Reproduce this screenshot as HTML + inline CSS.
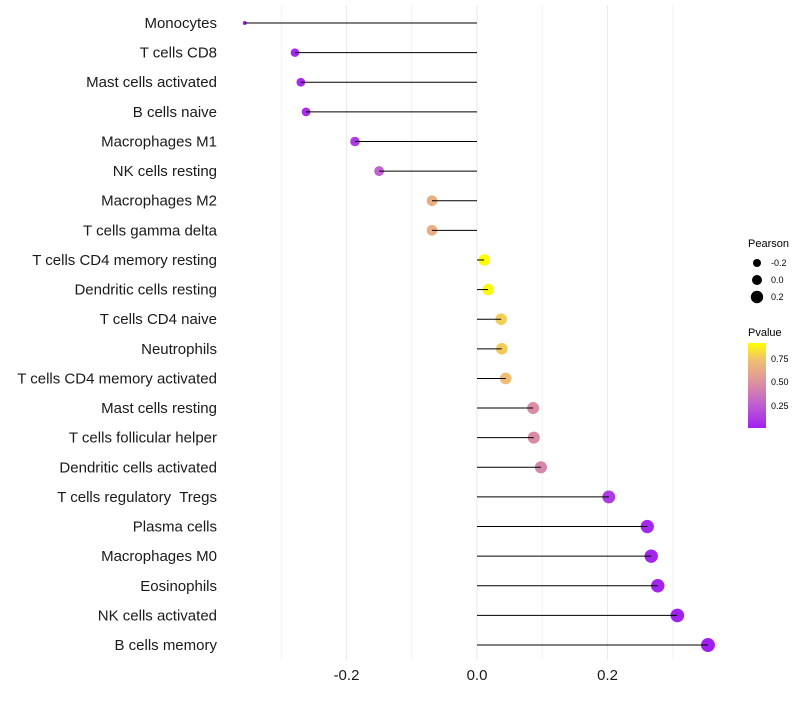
<!DOCTYPE html>
<html><head><meta charset="utf-8"><style>
body{margin:0;background:#fff;font-family:"Liberation Sans",sans-serif}
text{white-space:pre}
</style></head><body>
<svg id="chart" width="800" height="700" xmlns="http://www.w3.org/2000/svg" font-family="Liberation Sans, sans-serif">
<g id="grid"></g>
<g id="ylab"></g>
<g id="xlab"></g>
<g id="pts"></g>
<g id="segs"></g>
<g>
<text x="748" y="247" font-size="11">Pearson</text>
<circle cx="757" cy="263" r="4" fill="#000"/>
<text x="771" y="266" font-size="9">-0.2</text>
<circle cx="757" cy="280" r="5" fill="#000"/>
<text x="771" y="283" font-size="9">0.0</text>
<circle cx="757" cy="297" r="6.2" fill="#000"/>
<text x="771" y="300" font-size="9">0.2</text>
</g>
<g>
<defs><linearGradient id="pg" x1="0" y1="1" x2="0" y2="0">
<stop offset="0" stop-color="#a020f0"/><stop offset="0.28" stop-color="#c060d0"/><stop offset="0.53" stop-color="#dc90a0"/><stop offset="0.8" stop-color="#f0c070"/><stop offset="1" stop-color="#ffff00"/></linearGradient></defs>
<text x="748" y="336" font-size="11">Pvalue</text>
<rect x="748" y="343" width="18" height="85" fill="url(#pg)"/>
<text x="771" y="362" font-size="9">0.75</text>
<text x="771" y="385" font-size="9">0.50</text>
<text x="771" y="409" font-size="9">0.25</text>
</g>
</svg>
<script>
const categories=["Monocytes","T cells CD8","Mast cells activated","B cells naive","Macrophages M1","NK cells resting","Macrophages M2","T cells gamma delta","T cells CD4 memory resting","Dendritic cells resting","T cells CD4 naive","Neutrophils","T cells CD4 memory activated","Mast cells resting","T cells follicular helper","Dendritic cells activated","T cells regulatory  Tregs","Plasma cells","Macrophages M0","Eosinophils","NK cells activated","B cells memory"];
const pearson=[-0.356,-0.279,-0.270,-0.262,-0.187,-0.150,-0.069,-0.069,0.011,0.017,0.037,0.038,0.044,0.086,0.087,0.098,0.202,0.261,0.267,0.277,0.307,0.354];
const pvalue=[0.03,0.05,0.06,0.07,0.12,0.28,0.65,0.65,0.92,0.9,0.78,0.77,0.72,0.48,0.47,0.45,0.12,0.05,0.04,0.03,0.02,0.016];
const xTicks=[-0.2,0.0,0.2];
const xTickLabels=["-0.2","0.0","0.2"];
const NS="http://www.w3.org/2000/svg";
const x=v=>477+v*652.5;
const y=i=>23+i*29.62;
const stops=[[0,[160,32,240]],[0.28,[192,96,208]],[0.53,[220,144,160]],[0.8,[240,192,112]],[1,[255,255,0]]];
function col(p){let t=(p-0.016)/(0.92-0.016);t=Math.max(0,Math.min(1,t));
for(let k=1;k<stops.length;k++){if(t<=stops[k][0]){const a=stops[k-1],b=stops[k];const f=(t-a[0])/(b[0]-a[0]);
return "rgb("+a[1].map((c,j)=>Math.round(c+(b[1][j]-c)*f)).join(",")+")";}}return "rgb(255,255,0)";}
function rad(v){if(v<-0.279)return Math.max(1.5,4.3-(-0.279-v)*30);return Math.sqrt(18.5+48*(v+0.279));}
function mk(tag,attrs,parent){const e=document.createElementNS(NS,tag);for(const k in attrs)e.setAttribute(k,attrs[k]);document.getElementById(parent).appendChild(e);return e;}
[-0.3,-0.1,0.1,0.3].forEach(v=>{const l=mk("line",{x1:x(v),x2:x(v),y1:5,y2:660,stroke:"#f2f2f2","stroke-width":1},"grid");

});
xTicks.forEach((v,i)=>{const l=mk("line",{x1:x(v),x2:x(v),y1:5,y2:660,stroke:"#ebebeb","stroke-width":1.2},"grid");


const t=mk("text",{x:x(v),y:680,"font-size":15,"text-anchor":"middle",fill:"#1a1a1a"},"xlab");t.textContent=xTickLabels[i];

});
categories.forEach((c,i)=>{
const t=mk("text",{x:217,y:y(i)+5,"font-size":15,"text-anchor":"end",fill:"#1a1a1a"},"ylab");t.textContent=c;


const p=mk("circle",{cx:x(pearson[i]),cy:y(i),r:rad(pearson[i]),fill:col(pvalue[i])},"pts");


const s=mk("line",{x1:x(0),x2:x(pearson[i]),y1:y(i),y2:y(i),stroke:"#000","stroke-width":1},"segs");


});
</script>
</body></html>
